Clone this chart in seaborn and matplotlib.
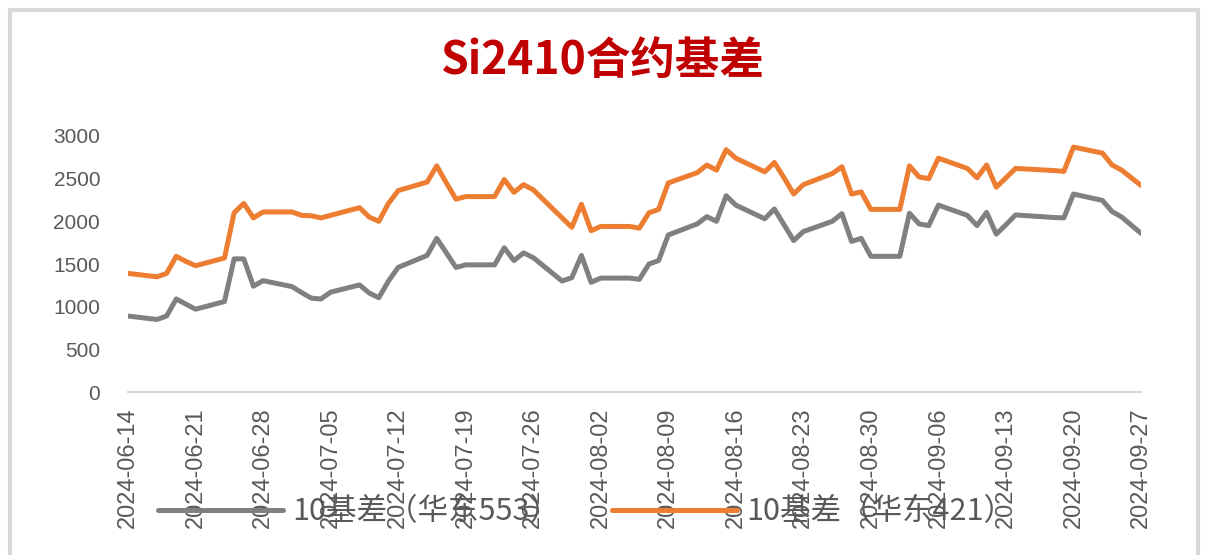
import matplotlib
matplotlib.use("Agg")
import matplotlib.pyplot as plt
import matplotlib.patches as mpatches
import seaborn as sns
import pandas as pd

title = "Si2410合约基差"
label_gray = "10基差（华东553）"
label_orange = "10基差（华东421）"

dates = [
    "2024-06-14", "2024-06-17", "2024-06-18", "2024-06-19", "2024-06-20", "2024-06-21",
    "2024-06-24", "2024-06-25", "2024-06-26", "2024-06-27", "2024-06-28",
    "2024-07-01", "2024-07-02", "2024-07-03", "2024-07-04", "2024-07-05",
    "2024-07-08", "2024-07-09", "2024-07-10", "2024-07-11", "2024-07-12",
    "2024-07-15", "2024-07-16", "2024-07-17", "2024-07-18", "2024-07-19",
    "2024-07-22", "2024-07-23", "2024-07-24", "2024-07-25", "2024-07-26",
    "2024-07-29", "2024-07-30", "2024-07-31", "2024-08-01", "2024-08-02",
    "2024-08-05", "2024-08-06", "2024-08-07", "2024-08-08", "2024-08-09",
    "2024-08-12", "2024-08-13", "2024-08-14", "2024-08-15", "2024-08-16",
    "2024-08-19", "2024-08-20", "2024-08-21", "2024-08-22", "2024-08-23",
    "2024-08-26", "2024-08-27", "2024-08-28", "2024-08-29", "2024-08-30",
    "2024-09-02", "2024-09-03", "2024-09-04", "2024-09-05", "2024-09-06",
    "2024-09-09", "2024-09-10", "2024-09-11", "2024-09-12", "2024-09-13", "2024-09-14",
    "2024-09-18", "2024-09-19", "2024-09-20",
    "2024-09-23", "2024-09-24", "2024-09-25", "2024-09-26", "2024-09-27",
]

gray_values = [
    890, 850, 890, 1090, 1030, 970,
    1060, 1560, 1560, 1240, 1305,
    1235, 1165, 1100, 1090, 1170,
    1255, 1160, 1105, 1300, 1460,
    1600, 1800, 1630, 1460, 1490,
    1490, 1690, 1540, 1630, 1575,
    1300, 1340, 1600, 1285, 1335,
    1335, 1320, 1500, 1540, 1840,
    1970, 2055, 2000, 2300, 2190,
    2030, 2145, 1960, 1775, 1880,
    2000, 2090, 1765, 1800, 1590,
    1590, 2095, 1970, 1950, 2190,
    2070, 1950, 2105, 1850, 1960, 2075,
    2045, 2040, 2320,
    2245, 2115, 2050, 1955, 1860,
]

orange_values = [
    1390, 1350, 1390, 1590, 1530, 1480,
    1570, 2100, 2210, 2040, 2110,
    2110, 2070, 2065, 2040, 2070,
    2160, 2050, 2000, 2210, 2360,
    2460, 2650, 2450, 2260, 2290,
    2290, 2490, 2340, 2430, 2370,
    2040, 1930, 2200, 1890, 1940,
    1940, 1920, 2100, 2140, 2450,
    2570, 2660, 2600, 2840, 2740,
    2580, 2690, 2510, 2320, 2430,
    2560, 2640, 2320, 2345, 2140,
    2140, 2650, 2520, 2500, 2740,
    2620, 2510, 2660, 2400, 2510, 2620,
    2595, 2585, 2870,
    2800, 2660, 2600, 2510, 2420,
]

tick_dates = pd.date_range("2024-06-14", "2024-09-27", freq="7D")
y_ticks = [0, 500, 1000, 1500, 2000, 2500, 3000]

sns.set_theme(style="white")
plt.rcParams["font.family"] = ["Liberation Sans", "Noto Sans CJK SC", "DejaVu Sans"]

W, H = 1222, 555
fig = plt.figure(figsize=(W / 100, H / 100), dpi=100)
fig.patch.set_facecolor("white")
ax = fig.add_axes([128 / W, 1 - 392 / H, (1141 - 128) / W, (392 - 136) / H])

df = pd.DataFrame({
    "date": pd.to_datetime(dates * 2),
    "value": gray_values + orange_values,
    "series": [label_gray] * len(dates) + [label_orange] * len(dates),
})
palette = {label_gray: "#808080", label_orange: "#ED7D31"}
sns.lineplot(data=df, x="date", y="value", hue="series", palette=palette,
             linewidth=3.6, ax=ax, legend=True)

ax.set_xlim(pd.Timestamp("2024-06-14"), pd.Timestamp("2024-09-27"))
ax.set_ylim(0, 3000)
ax.set_xticks(tick_dates)
ax.set_xticklabels([d.strftime("%Y-%m-%d") for d in tick_dates], rotation=90,
                   fontsize=17, color="#595959")
ax.set_yticks(y_ticks)
ax.set_yticklabels([str(v) for v in y_ticks], fontsize=15, color="#595959")
ax.tick_params(axis="x", length=0, pad=11)
ax.tick_params(axis="y", length=0, pad=20)
ax.set_xlabel("")
ax.set_ylabel("")
for s in ["top", "right", "left"]:
    ax.spines[s].set_visible(False)
ax.spines["bottom"].set_color("#D9D9D9")
ax.spines["bottom"].set_linewidth(1.5)
ax.grid(False)

handles, labels = ax.get_legend_handles_labels()
ax.legend(handles, labels, loc="center", bbox_to_anchor=(586 / W, 1 - 512 / H),
          bbox_transform=fig.transFigure, ncol=2, frameon=False,
          prop={"family": ["Noto Sans CJK SC", "DejaVu Sans"], "size": 22},
          handlelength=4.1, handletextpad=0.3, columnspacing=1.7,
          labelcolor="#595959")

fig.text(602 / W, 1 - 61 / H, title, ha="center", va="center", fontsize=32,
         fontweight="bold", color="#C00000",
         family=["Noto Sans CJK SC", "DejaVu Sans"])

border = mpatches.Rectangle((10 / W, -0.1), (1198 - 10) / W, 1.1 - 10 / H,
                            transform=fig.transFigure, fill=False,
                            edgecolor="#D9D9D9", linewidth=3)
fig.patches.append(border)

fig.savefig("out.png", dpi=100, facecolor="white")
